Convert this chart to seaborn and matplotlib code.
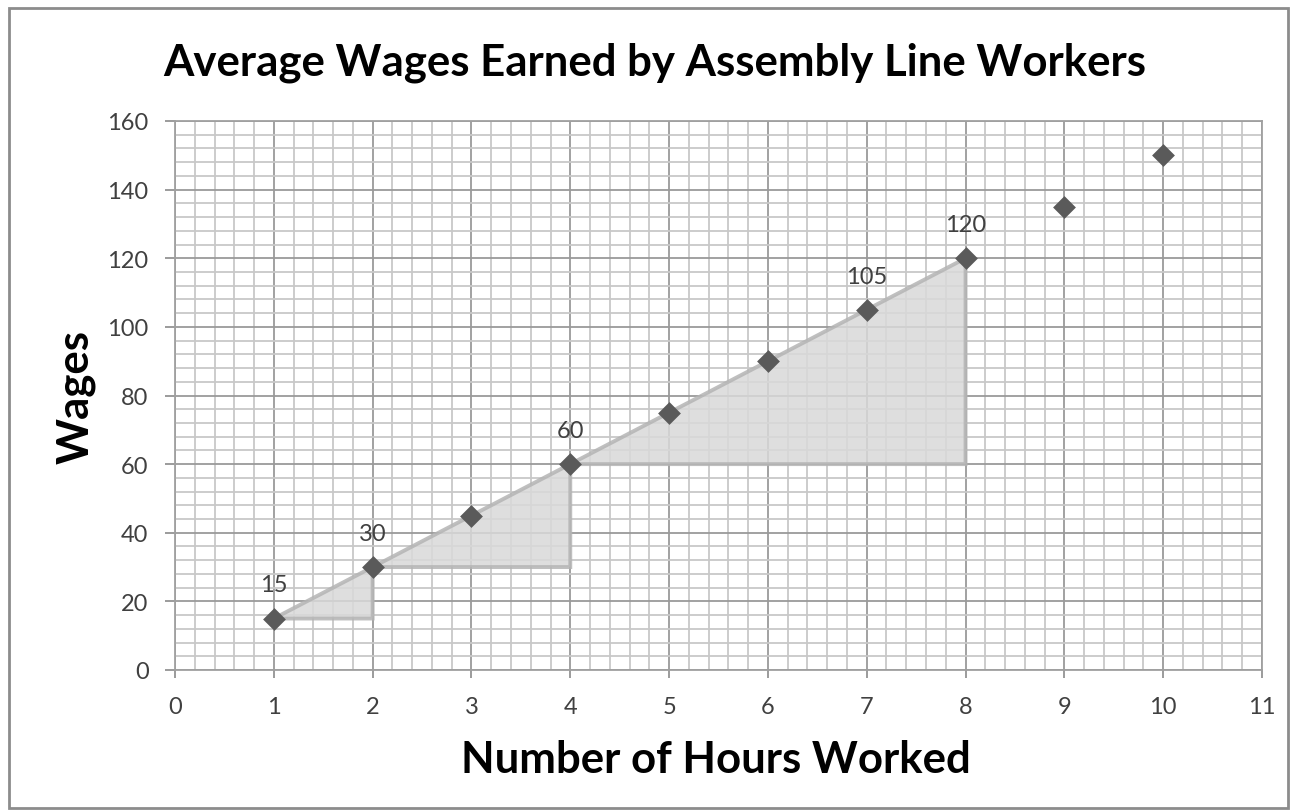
import matplotlib
matplotlib.use("Agg")
import matplotlib.pyplot as plt
import seaborn as sns
import pandas as pd
import numpy as np
from matplotlib.ticker import MultipleLocator

hours = [1, 2, 3, 4, 5, 6, 7, 8, 9, 10]
wages = [15, 30, 45, 60, 75, 90, 105, 120, 135, 150]
labeled_hours = [1, 2, 4, 7, 8]
labeled_wages = [15, 30, 60, 105, 120]
# triangles: (start hour, start wage, end hour, end wage)
tri_start_h = [1, 2, 4]
tri_start_w = [15, 30, 60]
tri_end_h = [2, 4, 8]
tri_end_w = [30, 60, 120]

title = "Average Wages Earned by Assembly Line Workers"
xlabel = "Number of Hours Worked"
ylabel = "Wages"

sns.set_style("white")
plt.rcParams['font.family'] = ['Lato', 'DejaVu Sans']

fig = plt.figure(figsize=(12.92, 8.12), dpi=100)
ax = fig.add_axes([175/1292, 1-671/812, (1262-175)/1292, (671-122)/812])

ax.set_xlim(0, 11)
ax.set_ylim(0, 160)
ax.xaxis.set_major_locator(MultipleLocator(1))
ax.xaxis.set_minor_locator(MultipleLocator(0.2))
ax.yaxis.set_major_locator(MultipleLocator(20))
ax.yaxis.set_minor_locator(MultipleLocator(4))
ax.grid(which='minor', color='#c8c8c8', linewidth=1.3, zorder=0)
ax.grid(which='major', color='#9a9a9a', linewidth=1.3, zorder=0)
ax.set_axisbelow(True)
for s in ax.spines.values():
    s.set_color('#a0a0a0')
    s.set_linewidth(1.3)
ax.tick_params(which='major', direction='out', length=5, width=1.2, color='#8a8a8a',
               labelsize=17, labelcolor='#404040', left=True, bottom=True)
ax.tick_params(axis='y', which='major', length=7, pad=12)
ax.tick_params(axis='x', which='major', length=6, pad=13)
ax.tick_params(which='minor', length=0)

# shaded triangles
for h0, w0, h1, w1 in zip(tri_start_h, tri_start_w, tri_end_h, tri_end_w):
    ax.fill([h0, h1, h1], [w0, w1, w0], facecolor='#d9d9d9', alpha=0.85,
            edgecolor='#b4b4b4', linewidth=2.8, zorder=2, joinstyle='miter')

df = pd.DataFrame({'hours': hours, 'wages': wages})
sns.scatterplot(data=df, x='hours', y='wages', marker='D', s=135, color='#5a5a5a',
                edgecolor='#5a5a5a', linewidth=0, ax=ax, zorder=3)

for h, w in zip(labeled_hours, labeled_wages):
    ax.annotate(str(w), (h, w), xytext=(0, 19.5), textcoords='offset points',
                ha='center', va='baseline', fontsize=17, color='#404040')

ax.set_xlabel('')
ax.set_ylabel('')
fig.text(655/1292, 1-63/812, title, ha='center', va='center', fontsize=31.5,
         fontweight='bold', color='#000000')
fig.text(716/1292, 1-760/812, xlabel, ha='center', va='center', fontsize=31.5,
         fontweight='bold', color='#000000')
fig.text(76/1292, 1-397/812, ylabel, ha='center', va='center', fontsize=31.5,
         fontweight='bold', rotation=90, color='#000000')

# figure border
fig.patches.append(plt.Rectangle((9/1292, 3/812), (1288-9)/1292, (803-3)/812,
                                 transform=fig.transFigure, fill=False,
                                 edgecolor='#8c8c8c', linewidth=2))

fig.savefig('out.png', dpi=100)
